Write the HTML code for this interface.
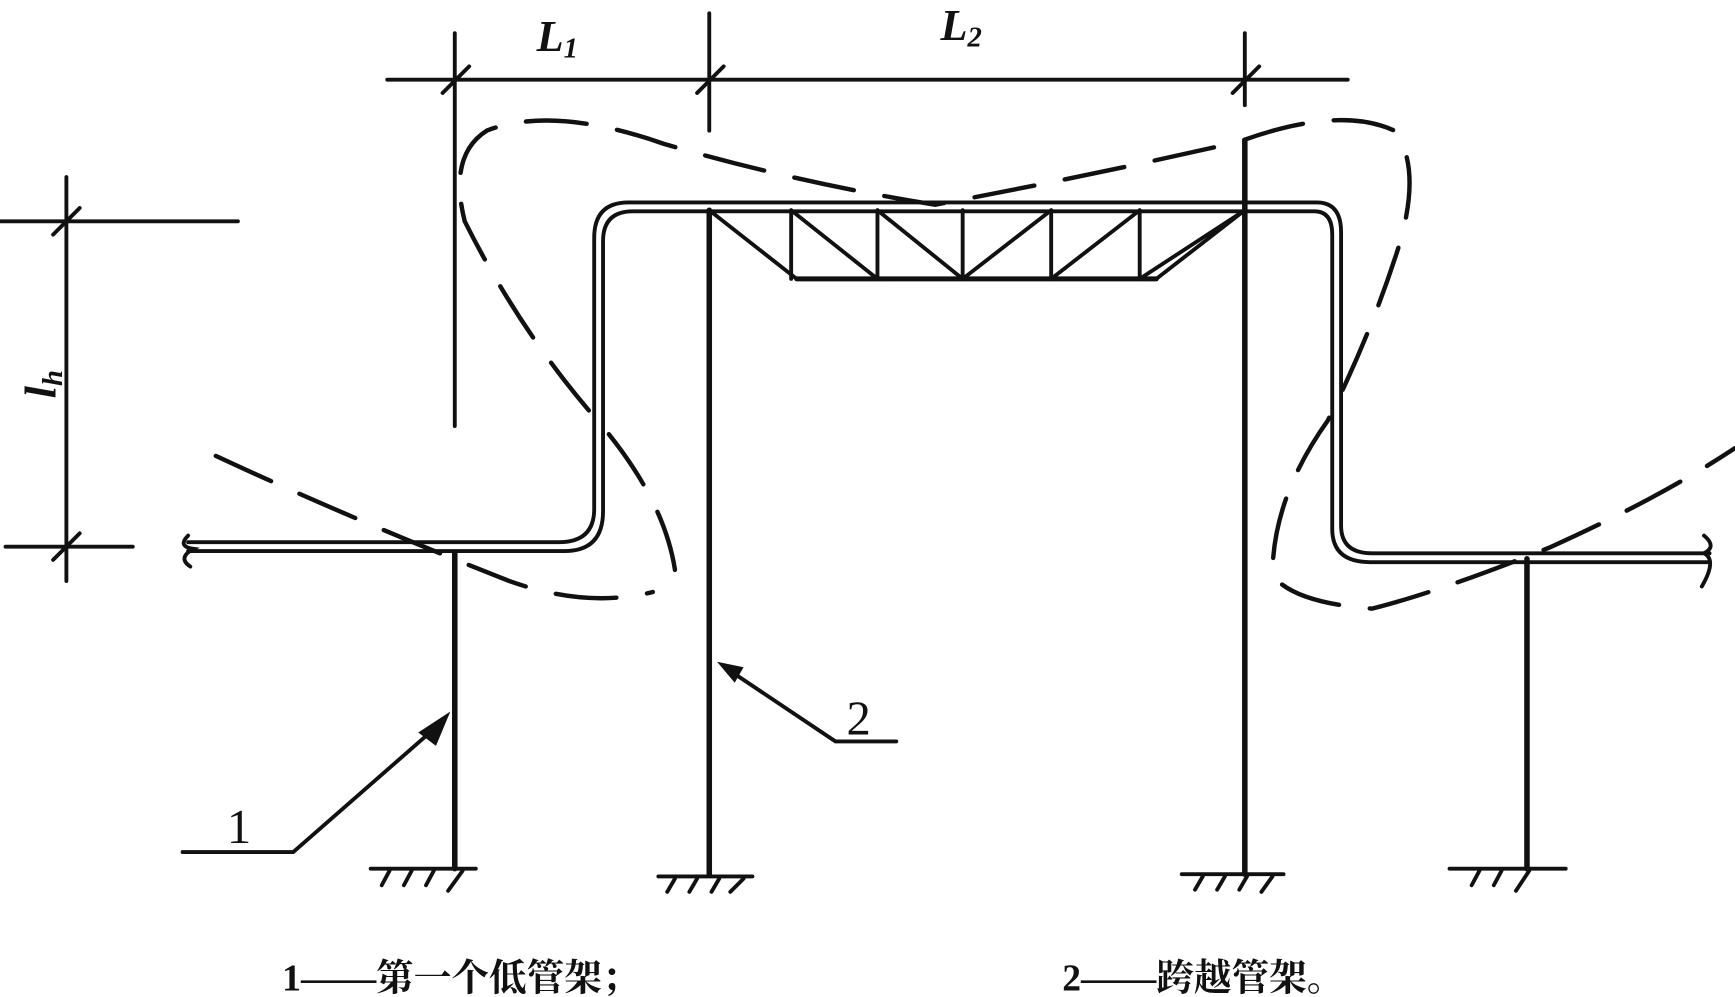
<!DOCTYPE html>
<html><head><meta charset="utf-8"><style>
html,body{margin:0;padding:0;background:#fff;}
svg{display:block;}
</style></head><body>
<svg width="1735" height="997" viewBox="0 0 1568 901" preserveAspectRatio="none" xmlns="http://www.w3.org/2000/svg">
<g stroke="#111" fill="none" stroke-linecap="round">
<!-- top dimension -->
<line x1="350" y1="72" x2="1218" y2="72" stroke-width="3.5"/>
<line x1="411" y1="30" x2="411" y2="385" stroke-width="3.5"/>
<line x1="641" y1="12" x2="641" y2="118" stroke-width="3.5"/>
<line x1="1125" y1="30" x2="1125" y2="95" stroke-width="3.5"/>
<line x1="400" y1="84" x2="424" y2="60" stroke-width="3.5"/>
<line x1="630" y1="84" x2="654" y2="60" stroke-width="3.5"/>
<line x1="1114" y1="84" x2="1138" y2="60" stroke-width="3.5"/>
<!-- left dimension -->
<line x1="60" y1="160" x2="60" y2="525" stroke-width="3.5"/>
<line x1="0" y1="200" x2="215" y2="200" stroke-width="3.5"/>
<line x1="5" y1="494" x2="120" y2="494" stroke-width="3.5"/>
<line x1="48" y1="212" x2="72" y2="188" stroke-width="3.5"/>
<line x1="48" y1="506" x2="72" y2="482" stroke-width="3.5"/>
<!-- pipe double line -->
<path d="M170 490 H505 Q537 490 537 460 V215 Q537 183 568 183 H1190 Q1212 183 1212 210 V475 Q1212 500 1240 500 H1545" stroke-width="3.5"/>
<path d="M170 498 H510 Q545 498 545 462 V218 Q545 191 572 191 H1188 Q1204 191 1204 212 V478 Q1204 508 1238 508 H1545" stroke-width="3.5"/>
<path d="M170 484 Q160 494 175 496 Q160 504 172 512" stroke-width="3.5"/>
<path d="M1540 484 Q1552 494 1540 500 Q1552 506 1538 530" stroke-width="3.5"/>
<!-- columns -->
<line x1="411" y1="500" x2="411" y2="785" stroke-width="5"/>
<line x1="641" y1="190" x2="641" y2="790" stroke-width="5"/>
<line x1="1125" y1="128" x2="1125" y2="790" stroke-width="5"/>
<line x1="1380" y1="505" x2="1380" y2="785" stroke-width="5"/>
<!-- grounds -->
<line x1="335" y1="785" x2="430" y2="785" stroke-width="3.5"/>
<path d="M345 800 L352 787 M365 800 L372 787 M385 800 L392 787 M405 805 L418 787" stroke-width="3.5"/>
<line x1="595" y1="792" x2="680" y2="792" stroke-width="3.5"/>
<path d="M603 806 L610 794 M623 806 L630 794 M643 806 L650 794 M660 806 L672 794" stroke-width="3.5"/>
<line x1="1068" y1="790" x2="1160" y2="790" stroke-width="3.5"/>
<path d="M1080 804 L1087 792 M1100 804 L1107 792 M1120 804 L1127 792 M1140 806 L1150 792" stroke-width="3.5"/>
<line x1="1310" y1="785" x2="1415" y2="785" stroke-width="3.5"/>
<path d="M1330 800 L1337 787 M1350 800 L1357 787 M1370 805 L1382 787" stroke-width="3.5"/>
<!-- truss -->
<line x1="720" y1="252" x2="1045" y2="252" stroke-width="4.5"/>
<path d="M641 190 L720 252 M1125 190 L1045 252" stroke-width="3.5"/>
<path d="M715 190 V252 M793 190 V252 M870 190 V252 M950 190 V252 M1030 190 V252" stroke-width="3.5"/>
<path d="M715 190 L793 252 M793 190 L870 252 M950 190 L870 252 M1030 190 L950 252 M1125 190 L1030 252" stroke-width="3.5"/>
<!-- dashed deformation -->
<g stroke-width="4" stroke-dasharray="55 28">
<path d="M610 515 Q600 450 540 380 Q470 300 420 200 Q405 140 440 118 Q500 95 600 130 Q720 165 845 185 Q980 160 1120 128 Q1210 95 1260 118 Q1285 150 1265 220 Q1240 300 1200 380 Q1150 450 1150 520 Q1170 545 1240 550 Q1300 535 1400 495 Q1500 450 1568 405"/>
<path d="M195 412 Q320 470 460 525 Q530 550 590 535"/>
</g>
<!-- leaders -->
<path d="M165 770 H265 L400 652" stroke-width="3.5"/>
<path d="M810 670 H755 L655 603" stroke-width="3.5"/>
</g>
<polygon points="407,643 378,662 394,674" fill="#111"/>
<polygon points="648,598 672,603 664,617" fill="#111"/>
<g font-family="Liberation Serif, serif" font-style="italic" font-weight="bold" fill="#111">
<text x="485" y="46" font-size="40">L<tspan font-size="26" dy="6">1</tspan></text>
<text x="850" y="36" font-size="40">L<tspan font-size="26" dy="6">2</tspan></text>
<text transform="translate(50,360) rotate(-90)" font-size="40">l<tspan font-size="26" dy="6">h</tspan></text>
</g>
<g font-family="Liberation Serif, serif" font-size="44" fill="#111">
<text x="205" y="762">1</text>
<text x="765" y="664">2</text>
</g>
<g font-family="Liberation Serif, 'Noto Serif CJK SC', serif" font-size="34" font-weight="bold" fill="#111">
<text x="255" y="895">1——第一个低管架；</text>
<text x="960" y="895">2——跨越管架。</text>
</g>
</svg>
</body></html>
